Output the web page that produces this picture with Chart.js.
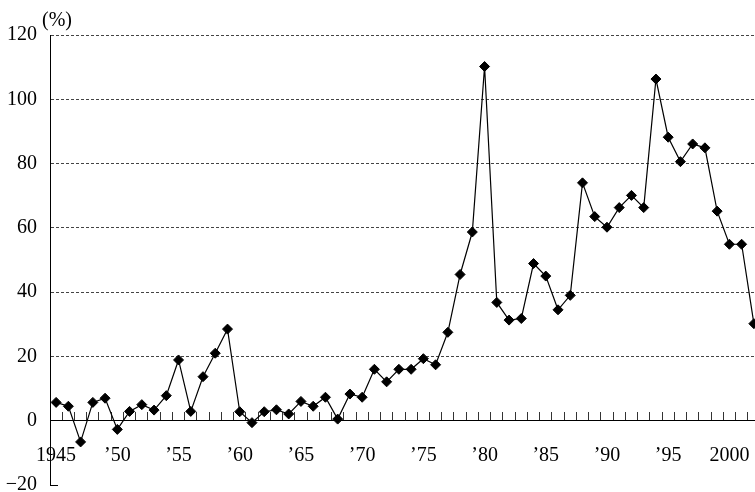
<!DOCTYPE html>
<html>
<head>
<meta charset="utf-8">
<script src="https://cdn.jsdelivr.net/npm/chart.js@4"></script>
<style>
  body { margin: 0; background: #fff; overflow: hidden; }
  #clip { width: 755px; height: 492px; overflow: hidden; }
  /* slightly wider than the window: the last year is cut by the right edge, as in the original */
  #wrap { width: 766px; height: 492px; position: relative; }
</style>
</head>
<body>
<div id="clip"><div id="wrap"><canvas id="chart"></canvas></div></div>
<script>
// years on the x axis
var years = [1945, 1946, 1947, 1948, 1949, 1950, 1951, 1952, 1953, 1954,
             1955, 1956, 1957, 1958, 1959, 1960, 1961, 1962, 1963, 1964,
             1965, 1966, 1967, 1968, 1969, 1970, 1971, 1972, 1973, 1974,
             1975, 1976, 1977, 1978, 1979, 1980, 1981, 1982, 1983, 1984,
             1985, 1986, 1987, 1988, 1989, 1990, 1991, 1992, 1993, 1994,
             1995, 1996, 1997, 1998, 1999, 2000, 2001, 2002];

// values in %
var values = [5.7, 4.5, -6.6, 5.7, 7.0, -2.7, 2.9, 5.0, 3.3, 7.8,
              18.9, 2.9, 13.7, 21.0, 28.5, 2.8, -0.6, 2.8, 3.4, 2.1,
              6.0, 4.5, 7.3, 0.5, 8.3, 7.3, 16.0, 12.1, 16.0, 16.0,
              19.3, 17.4, 27.5, 45.5, 58.7, 110.2, 36.8, 31.3, 31.8, 48.9,
              45.0, 34.5, 39.0, 74.0, 63.5, 60.2, 66.3, 70.1, 66.3, 106.3,
              88.2, 80.6, 86.1, 84.9, 65.2, 54.9, 54.9, 30.2];

// which years get a label, and the text
var labelYears = [1945, 1950, 1955, 1960, 1965, 1970, 1975, 1980, 1985, 1990, 1995, 2000];
var labelTexts = ['1945', '\u201950', '\u201955', '\u201960', '\u201965', '\u201970',
                  '\u201975', '\u201980', '\u201985', '\u201990', '\u201995', '2000'];

var yMin = -20, yMax = 120, yStep = 20;
var unitText = '(%)';

Chart.defaults.font.family = '"Liberation Serif", "Times New Roman", serif';
Chart.defaults.font.size = 20;
Chart.defaults.color = '#000';

// draws the "(%)" unit above the y axis
var unitPlugin = {
    id: 'unitLabel',
    afterDraw: function (chart) {
        var ctx = chart.ctx;
        ctx.save();
        ctx.font = '20px "Liberation Serif", serif';
        ctx.fillStyle = '#000';
        ctx.textBaseline = 'middle';
        ctx.textAlign = 'left';
        ctx.fillText(unitText, 42, 21);
        ctx.restore();
    }
};

new Chart(document.getElementById('chart'), {
    type: 'line',
    data: {
        labels: years,
        datasets: [{
            data: values,
            borderColor: '#000',
            borderWidth: 1.2,
            pointStyle: 'rectRot',
            pointRadius: 5,
            pointBorderWidth: 1,
            pointBackgroundColor: '#000',
            pointBorderColor: '#000',
            tension: 0
        }]
    },
    options: {
        responsive: true,
        maintainAspectRatio: false,
        animation: false,
        layout: { padding: { top: 35, right: 0, bottom: 7, left: 0 } },
        plugins: {
            legend: { display: false },
            tooltip: { enabled: false }
        },
        scales: {
            x: {
                type: 'category',
                position: { y: 0 },   // x axis sits on the 0 line
                offset: true,
                grid: {
                    display: true,
                    offset: true,
                    drawOnChartArea: false,
                    drawTicks: true,
                    tickLength: -9,   // small marks pointing up
                    tickColor: '#333',
                    tickWidth: 1
                },
                border: { display: true, color: '#000', width: 1 },
                ticks: {
                    autoSkip: false,
                    maxRotation: 0,
                    padding: 32,
                    callback: function (val, i) {
                        var k = labelYears.indexOf(years[i]);
                        return k >= 0 ? labelTexts[k] : '';
                    }
                },
                afterFit: function (s) {
                    s.paddingLeft = 0;
                    s.paddingRight = 0;
                }
            },
            y: {
                min: yMin,
                max: yMax,
                grid: {
                    color: function (c) {
                        var v = c.tick ? c.tick.value : null;
                        return (v === 0 || v === yMin) ? 'rgba(0,0,0,0)' : '#444';
                    },
                    drawTicks: true,
                    tickLength: -8,
                    tickColor: function (c) {
                        return (c.tick && c.tick.value === yMin) ? '#000' : 'rgba(0,0,0,0)';
                    }
                },
                border: { display: true, color: '#000', width: 1, dash: [3, 2] },
                ticks: {
                    stepSize: yStep,
                    padding: 21,
                    callback: function (v) {
                        return v < 0 ? '\u2212' + Math.abs(v) : String(v);
                    }
                },
                afterFit: function (s) {
                    s.width = 50;
                    s.paddingTop = 0;
                    s.paddingBottom = 0;
                }
            }
        }
    },
    plugins: [unitPlugin]
});
</script>
</body>
</html>
